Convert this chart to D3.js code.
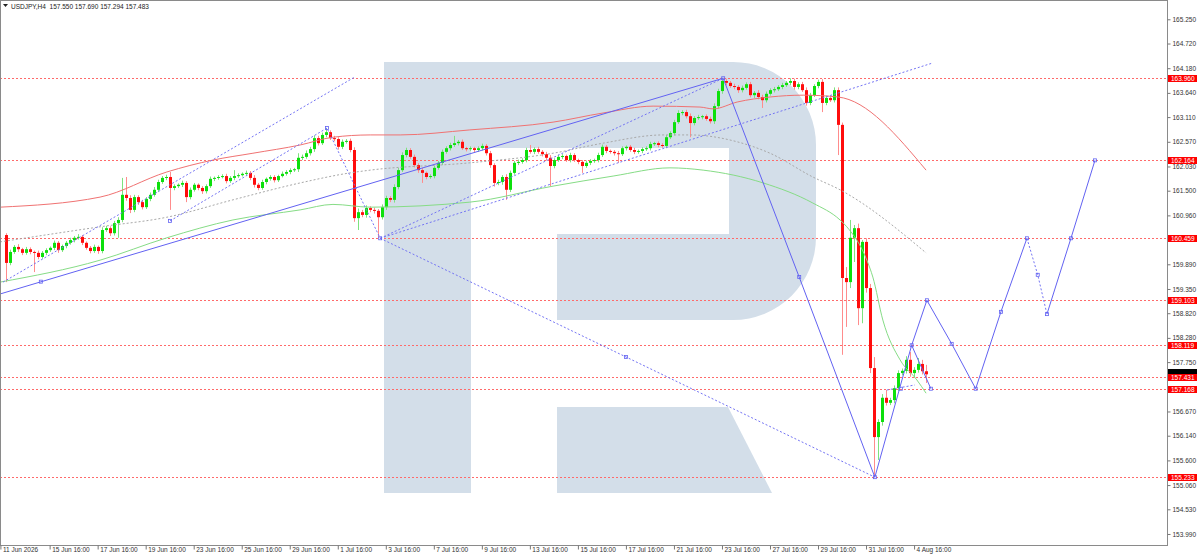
<!DOCTYPE html>
<html><head><meta charset="utf-8"><title>USDJPY H4</title>
<script src="https://cdn.jsdelivr.net/npm/d3@7/dist/d3.min.js"></script>
<style>
html,body{margin:0;padding:0;background:#fff;overflow:hidden}
svg{display:block;font-family:"Liberation Sans",Arial,sans-serif}
</style></head><body>
<svg id="chart" width="1200" height="555"></svg>
<script>
// ---------------- DATA ----------------
const symbolTitle = "USDJPY,H4";
const lastOHLC = [157.550, 157.690, 157.294, 157.483];
const firstOpen = 160.53;
const closes = [
159.92,160.16,160.27,160.22,160.14,160.22,160.16,160.14,160.05,160.14,
160.20,160.25,160.36,160.20,160.29,160.36,160.42,160.47,160.49,160.36,
160.25,160.18,160.27,160.18,160.64,160.68,160.57,160.79,160.86,161.41,
161.34,161.08,161.36,161.25,161.14,161.32,161.41,161.52,161.69,161.78,
161.80,161.56,161.60,161.63,161.67,161.36,161.52,161.63,161.56,161.49,
161.60,161.76,161.78,161.80,161.82,161.71,161.78,161.82,161.84,161.87,
161.89,161.78,161.63,161.56,161.69,161.76,161.80,161.73,161.82,161.87,
161.91,161.95,161.97,162.22,162.24,162.32,162.41,162.65,162.54,162.72,
162.78,162.65,162.63,162.46,162.57,162.59,162.39,160.90,161.03,160.97,
161.12,161.08,161.06,160.92,161.14,161.34,161.30,161.58,161.95,162.28,
162.39,162.24,162.06,161.95,161.89,161.80,161.82,162.00,162.11,162.35,
162.43,162.50,162.54,162.57,162.43,162.41,162.43,162.39,162.43,162.48,
162.32,162.06,161.67,161.69,161.80,161.52,161.89,162.11,162.13,162.17,
162.39,162.35,162.41,162.35,162.30,162.22,162.04,162.17,162.24,162.26,
162.17,162.28,162.17,162.13,162.04,162.11,162.15,162.17,162.28,162.46,
162.37,162.35,162.32,162.30,162.43,162.46,162.39,162.35,162.37,162.41,
162.43,162.52,162.54,162.50,162.48,162.67,162.76,163.00,163.20,163.22,
163.13,162.98,163.09,163.11,163.13,163.07,163.02,163.35,163.68,163.90,
163.86,163.79,163.77,163.70,163.75,163.83,163.59,163.64,163.55,163.48,
163.62,163.70,163.72,163.77,163.81,163.86,163.90,163.77,163.83,163.70,
163.42,163.59,163.79,163.88,163.42,163.53,163.48,163.70,162.94,159.59,
159.50,160.47,160.68,158.93,160.38,159.37,157.62,156.11,156.44,156.97,
156.86,156.92,157.18,157.51,157.56,157.80,157.51,157.58,157.71,157.55,
157.483];
const wickUp = [
0.04,0.05,0.04,0.06,0.03,0.05,0.04,0.03,0.05,0.04,
0.04,0.03,0.05,0.04,0.03,0.04,0.05,0.04,0.06,0.04,
0.03,0.04,0.05,0.03,0.06,0.05,0.04,0.05,0.06,0.37,
0.39,0.06,0.05,0.04,0.05,0.04,0.05,0.06,0.05,0.04,
0.05,0.11,0.04,0.03,0.05,0.04,0.05,0.04,0.03,0.04,
0.04,0.05,0.03,0.04,0.04,0.05,0.04,0.13,0.04,0.03,
0.05,0.04,0.06,0.04,0.05,0.03,0.04,0.04,0.03,0.05,
0.04,0.04,0.03,0.10,0.05,0.06,0.05,0.06,0.05,0.05,
0.09,0.04,0.05,0.04,0.05,0.04,0.05,0.06,0.08,0.05,
0.06,0.04,0.05,0.04,0.06,0.05,0.04,0.06,0.05,0.06,
0.05,0.04,0.05,0.04,0.05,0.03,0.04,0.05,0.04,0.05,
0.04,0.05,0.16,0.04,0.05,0.03,0.04,0.03,0.04,0.05,
0.04,0.05,0.04,0.05,0.04,0.06,0.05,0.04,0.05,0.04,
0.05,0.11,0.04,0.05,0.04,0.05,0.06,0.04,0.05,0.04,
0.03,0.05,0.04,0.03,0.04,0.05,0.04,0.03,0.05,0.05,
0.04,0.03,0.04,0.05,0.04,0.03,0.04,0.05,0.03,0.04,
0.04,0.05,0.03,0.04,0.04,0.05,0.04,0.05,0.06,0.04,
0.05,0.06,0.04,0.05,0.03,0.04,0.05,0.06,0.05,0.07,
0.05,0.04,0.05,0.04,0.05,0.04,0.05,0.04,0.06,0.05,
0.05,0.04,0.05,0.04,0.05,0.04,0.06,0.05,0.04,0.05,
0.06,0.05,0.04,0.05,0.06,0.05,0.04,0.06,0.06,0.05,
0.24,0.39,0.07,0.10,0.04,0.08,0.09,0.24,0.06,0.08,
0.17,0.05,0.06,0.06,0.05,0.08,0.17,0.06,0.13,0.09,
0.14];
const wickDn = [
0.42,0.05,0.04,0.06,0.05,0.04,0.05,0.42,0.05,0.04,
0.05,0.04,0.05,0.06,0.04,0.05,0.04,0.05,0.04,0.05,
0.04,0.05,0.04,0.06,0.05,0.04,0.06,0.05,0.32,0.05,
0.06,0.07,0.05,0.06,0.05,0.04,0.05,0.04,0.05,0.04,
0.05,0.48,0.05,0.04,0.05,0.11,0.05,0.04,0.05,0.06,
0.05,0.04,0.05,0.04,0.03,0.05,0.04,0.05,0.04,0.03,
0.04,0.05,0.06,0.05,0.04,0.05,0.04,0.05,0.04,0.03,
0.04,0.05,0.04,0.06,0.05,0.04,0.05,0.06,0.05,0.04,
0.05,0.04,0.05,0.06,0.05,0.04,0.05,0.08,0.26,0.05,
0.06,0.05,0.06,0.45,0.05,0.06,0.05,0.06,0.05,0.04,
0.05,0.04,0.05,0.06,0.22,0.05,0.04,0.05,0.04,0.05,
0.04,0.05,0.04,0.05,0.04,0.05,0.04,0.05,0.04,0.05,
0.05,0.06,0.08,0.05,0.06,0.22,0.05,0.04,0.05,0.04,
0.05,0.04,0.05,0.04,0.05,0.06,0.44,0.05,0.04,0.05,
0.04,0.05,0.04,0.05,0.15,0.04,0.05,0.04,0.05,0.04,
0.05,0.04,0.05,0.19,0.04,0.05,0.04,0.05,0.04,0.05,
0.04,0.05,0.04,0.05,0.04,0.05,0.04,0.05,0.04,0.05,
0.05,0.31,0.05,0.04,0.05,0.04,0.05,0.06,0.05,0.06,
0.05,0.04,0.05,0.06,0.05,0.04,0.05,0.06,0.05,0.17,
0.05,0.04,0.05,0.04,0.05,0.04,0.05,0.06,0.05,0.04,
0.06,0.05,0.04,0.05,0.20,0.05,0.04,0.05,0.66,1.68,
0.98,0.13,0.53,0.37,0.33,0.10,0.11,0.87,0.50,0.08,
0.06,0.05,0.07,0.06,0.05,0.06,0.08,0.10,0.06,0.07,
0.19];

// moving averages: [bar, price]
const maRed = [[-1.4,161.14],[23.6,161.36],[40.3,161.91],[51.8,162.17],[61.8,162.32],[73.6,162.50],[81.8,162.67],[91.1,162.72],[98.6,162.72],[116.0,162.83],[136.8,163.00],[149.3,163.20],[161.8,163.35],[173.5,163.33],[176.8,163.29],[182.8,163.44],[191.0,163.55],[199.3,163.59],[208.0,163.55],[230,161.95]];
const maGrey = [[-1.4,160.38],[23.6,160.71],[40.3,160.92],[56.8,161.30],[73.6,161.67],[86.1,161.89],[91.1,161.95],[116.0,162.11],[136.8,162.32],[149.3,162.54],[164.3,162.72],[171.0,162.72],[182.8,162.57],[191.0,162.32],[201.7,161.80],[208.5,161.52],[230,160.14]];
const maGreen = [[-1.4,159.50],[23.6,159.98],[40.3,160.47],[56.8,160.86],[73.6,161.08],[81.8,161.20],[91.1,161.14],[116.0,161.25],[136.8,161.60],[151.8,161.82],[166.0,162.00],[174.3,161.95],[189.3,161.67],[201.7,161.23],[208.5,160.86],[210.2,160.71],[215.2,159.98],[216.7,159.61],[219.2,158.67],[223.5,157.80],[227.7,157.36],[230,157.07]];

// horizontal levels & axis ticks (ticks hidden behind level labels are omitted)
const levels = [163.960, 162.164, 160.459, 159.103, 158.119, 157.431, 157.168, 155.233];
const priceTicks = [165.250,164.720,164.180,163.640,163.110,162.570,162.030,161.500,160.960,159.890,159.350,158.820,158.280,157.750,156.670,156.140,155.600,155.060,154.530,153.990];
const timeLabels = ["11 Jun 2026","15 Jun 16:00","17 Jun 16:00","19 Jun 16:00","23 Jun 16:00","25 Jun 16:00","29 Jun 16:00","1 Jul 16:00","3 Jul 16:00","7 Jul 16:00","9 Jul 16:00","13 Jul 16:00","15 Jul 16:00","17 Jul 16:00","21 Jul 16:00","23 Jul 16:00","27 Jul 16:00","29 Jul 16:00","31 Jul 16:00","4 Aug 16:00"];
const timeBars = [-1.3,11,23,35,47,59,71,83,95,107,119,131,143,155,167,179,191,203,215,227];

// drawn analysis objects: [bar, price]
const solidTrend = [[-1.4,159.24],[179.3,163.96]];
const dotA = [[-0.65,159.50],[87.3,163.99]];
const dotB = [[41.1,160.84],[80.3,162.87],[93.6,160.459]];
const dotC = [[93.6,160.459],[179.3,163.96]];
const dotD = [[93.6,160.459],[231.5,164.29]];
const dotE = [[93.6,160.459],[217.2,155.233]];
const zigzag = [[179.3,163.96],[198.3,159.61],[217.2,155.233],[226.4,158.119],[230.2,159.103],[236.4,158.15],[242.4,157.168],[248.7,158.85],[255.2,160.459]];
const forecastDot = [[255.2,160.459],[257.9,159.66],[260.2,158.80]];
const forecastSolid = [[260.2,158.80],[266.2,160.459],[272.2,162.164]];
const branchSolid = [[226.4,158.119],[231.2,157.168]];
const branchDot = [[220.2,157.14],[227.2,157.25]];
const markers = [[8.8,159.51],[41.1,160.84],[80.3,162.87],[93.6,160.459],[155.0,157.86],[179.3,163.96],[198.3,159.61],[217.2,155.233],[223.7,157.168],[226.4,158.119],[230.2,159.103],[231.2,157.168],[236.4,158.15],[242.4,157.168],[248.7,158.85],[255.2,160.459],[257.9,159.66],[260.2,158.80],[266.2,160.459],[272.2,162.164]];

// ---------------- DRAW ----------------
const plotR = 1167, plotB = 545;
const FONT = '"Liberation Sans",Arial,sans-serif';
const svg = d3.select('#chart');
const x = d3.scaleLinear().domain([-1.4, 290.2]).range([0, plotR]);
const y = d3.scaleLinear().domain([153.749, 165.672]).range([plotB, 0]);

svg.append('rect').attr('width',1200).attr('height',555).attr('fill','#fff');

// watermark logo
const logo = svg.append('g').attr('fill','#d3dee9');
logo.append('path').attr('d','M384,62 H471 V493 H384 Z');
logo.append('path').attr('d','M471,62 H733 A83,83 0 0 1 816,145 V237 A83,83 0 0 1 733,320 H557 V234 H729 V148 H471 Z');
logo.append('path').attr('d','M557,407 H728 L772,493 H557 Z');

// horizontal levels
svg.append('g').selectAll('line').data(levels).join('line')
  .attr('x1',0).attr('x2',plotR)
  .attr('y1',d=>Math.round(y(d))+0.5).attr('y2',d=>Math.round(y(d))+0.5)
  .attr('stroke','#ff6a6a').attr('stroke-width',1).attr('stroke-dasharray','2,2');

// candles
const bars = closes.map((c,i)=>{
  const last = i===closes.length-1;
  const o = i===0 ? firstOpen : (last ? lastOHLC[0] : closes[i-1]);
  const top = Math.max(o,c), bot = Math.min(o,c);
  const hi = last ? lastOHLC[1] : top + wickUp[i];
  const lo = last ? lastOHLC[2] : bot - wickDn[i];
  return {i,o,c,top,bot,hi,lo,up:c>=o};
});
const cg = svg.append('g');
cg.selectAll('line').data(bars).join('line')
  .attr('x1',d=>Math.round(x(d.i))+0.5).attr('x2',d=>Math.round(x(d.i))+0.5)
  .attr('y1',d=>y(d.hi)).attr('y2',d=>y(d.lo))
  .attr('stroke',d=>d.up?'#7ee27e':'#ff8c8c').attr('stroke-width',1);
cg.selectAll('rect').data(bars).join('rect')
  .attr('x',d=>Math.round(x(d.i))-1).attr('width',3)
  .attr('y',d=>y(d.top)).attr('height',d=>Math.max(1,y(d.bot)-y(d.top)))
  .attr('fill',d=>d.up?'#0ce00c':'#ff0d0d');

// moving averages
const line = d3.line().x(d=>x(d[0])).y(d=>y(d[1])).curve(d3.curveMonotoneX);
svg.append('path').datum(maRed).attr('d',line).attr('fill','none').attr('stroke','#f07272').attr('stroke-width',1);
svg.append('path').datum(maGrey).attr('d',line).attr('fill','none').attr('stroke','#a8a8a8').attr('stroke-width',1).attr('stroke-dasharray','2,2');
svg.append('path').datum(maGreen).attr('d',line).attr('fill','none').attr('stroke','#86dc86').attr('stroke-width',1);

// analysis objects
const straight = d3.line().x(d=>x(d[0])).y(d=>y(d[1]));
const blue = '#6262f2';
[solidTrend, zigzag, forecastSolid, branchSolid].forEach(a=>{
  svg.append('path').datum(a).attr('d',straight).attr('fill','none').attr('stroke',blue).attr('stroke-width',1);
});
[dotA, dotB, dotC, dotD, dotE, forecastDot, branchDot].forEach(a=>{
  svg.append('path').datum(a).attr('d',straight).attr('fill','none').attr('stroke','#7474f4').attr('stroke-width',1).attr('stroke-dasharray','2,2');
});
svg.append('g').selectAll('rect').data(markers).join('rect')
  .attr('x',d=>x(d[0])-1.5).attr('y',d=>y(d[1])-1.5).attr('width',3).attr('height',3)
  .attr('fill','none').attr('stroke',blue).attr('stroke-width',0.8);

// frame
svg.append('rect').attr('x',0.5).attr('y',0.5).attr('width',plotR).attr('height',plotB)
  .attr('fill','none').attr('stroke','#8a8a8a').attr('stroke-width',1);

// price axis
const gy = svg.append('g').attr('transform',`translate(${plotR+0.5},0)`)
  .call(d3.axisRight(y).tickValues(priceTicks).tickSize(3).tickPadding(2).tickFormat(d=>d.toFixed(3)));
gy.select('.domain').remove();
gy.selectAll('line').attr('stroke','#777');
gy.selectAll('text').attr('font-size',6.5).attr('fill','#333').attr('font-family',FONT);

// time axis
const gx = svg.append('g').attr('transform',`translate(0,${plotB+0.5})`)
  .call(d3.axisBottom(x).tickValues(timeBars).tickSize(4).tickPadding(2).tickFormat((d,i)=>timeLabels[i]));
gx.select('.domain').remove();
gx.selectAll('line').attr('stroke','#777');
gx.selectAll('text').attr('text-anchor','start').attr('dx',2).attr('y',2)
  .attr('font-size',6.5).attr('fill','#333').attr('font-family',FONT);

// current price marker (black, peeking above the 157.431 label as in the reference)
svg.append('rect').attr('x',plotR+1).attr('y',Math.round(y(lastOHLC[3]))-5).attr('width',29).attr('height',7).attr('fill','#000');
// level labels (red)
const lg = svg.append('g').selectAll('g').data(levels).join('g')
  .attr('transform',d=>`translate(${plotR+1},${Math.round(y(d))-3})`);
lg.append('rect').attr('width',29).attr('height',7).attr('fill','#ff0000');
lg.append('text').attr('x',3).attr('y',3.5).attr('dy','0.35em').attr('font-size',6.5).attr('fill','#fff').attr('font-family',FONT).text(d=>d.toFixed(3));

// title
svg.append('path').attr('d','M3,4 L8,4 L5.5,7 Z').attr('fill','#222');
svg.append('text').attr('x',11).attr('y',8.5).attr('font-size',6.5).attr('fill','#222').attr('font-family',FONT)
  .attr('xml:space','preserve')
  .text(`${symbolTitle}  ${lastOHLC.map(v=>v.toFixed(3)).join(' ')}`);
</script></body></html>
